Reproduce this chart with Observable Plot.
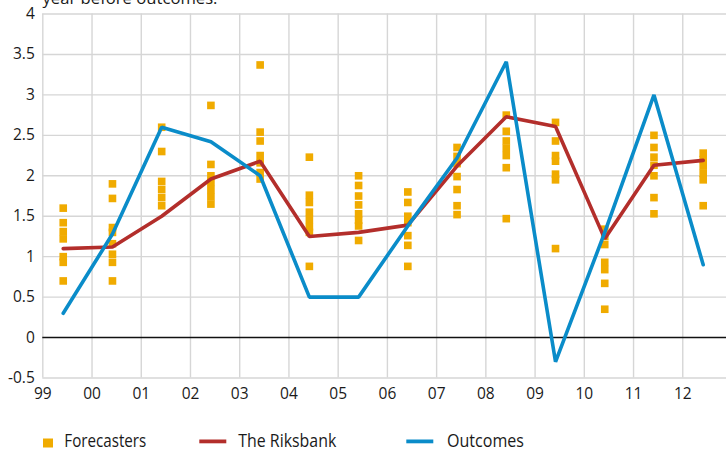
<!DOCTYPE html>
<html>
<head>
<meta charset="utf-8">
<script src="https://cdn.jsdelivr.net/npm/d3@7"></script>
<script src="https://cdn.jsdelivr.net/npm/@observablehq/plot@0.6"></script>
<style>
  html, body { margin: 0; padding: 0; background: #fff; }
  #wrap { position: relative; width: 726px; height: 450px; overflow: hidden; font-family: "Open Sans", sans-serif; color: #1a1a1a; }
  #chart { position: absolute; left: 0; top: 0; }
  #notes { position: absolute; left: 0; top: 0; pointer-events: none; }
  #notes text { font-family: "Open Sans", sans-serif; fill: #1a1a1a; }
</style>
</head>
<body>
<div id="wrap">
  <div id="chart"></div>
  <svg id="notes" width="726" height="450">
    <text x="42.5" y="4" font-size="17" textLength="175" lengthAdjust="spacingAndGlyphs">year before outcomes.</text>
    <rect x="43" y="438.5" width="10" height="9" fill="#f0ab00"></rect>
    <text x="64.3" y="447" font-size="17.5" textLength="82" lengthAdjust="spacingAndGlyphs">Forecasters</text>
    <rect x="199.3" y="439.5" width="27" height="3.8" fill="#b32e2b"></rect>
    <text x="238.3" y="447" font-size="17.5" textLength="98" lengthAdjust="spacingAndGlyphs">The Riksbank</text>
    <rect x="406.3" y="439.5" width="27" height="3.8" fill="#0a8cc9"></rect>
    <text x="447" y="447" font-size="17.5" textLength="77" lengthAdjust="spacingAndGlyphs">Outcomes</text>
  </svg>
</div>
<script>
// Years of the forecast horizon (tick labels are two-digit years)
const years = [1999, 2000, 2001, 2002, 2003, 2004, 2005, 2006, 2007, 2008, 2009, 2010, 2011, 2012];
const yearTicks = [1999, 2000, 2001, 2002, 2003, 2004, 2005, 2006, 2007, 2008, 2009, 2010, 2011, 2012];
const yTicks = [-0.5, 0, 0.5, 1, 1.5, 2, 2.5, 3, 3.5, 4];

// Actual outcomes
const outcomes = [0.3, 1.28, 2.6, 2.42, 2.0, 0.5, 0.5, 1.38, 2.22, 3.41, -0.3, 1.3, 3.0, 0.9];

// The Riksbank's forecasts
const riksbank = [1.1, 1.12, 1.5, 1.96, 2.18, 1.25, 1.3, 1.39, 2.12, 2.73, 2.61, 1.22, 2.13, 2.19];

// Individual forecasters, one list per year
const forecasters = [
  [1.6, 1.42, 1.31, 1.22, 1.0, 0.93, 0.7],
  [1.9, 1.72, 1.36, 1.3, 1.16, 1.03, 0.93, 0.7],
  [2.6, 2.3, 1.93, 1.83, 1.73, 1.63],
  [2.87, 2.14, 2.0, 1.92, 1.83, 1.74, 1.65],
  [3.37, 2.54, 2.43, 2.25, 2.16, 2.04, 1.96],
  [2.23, 1.76, 1.67, 1.55, 1.46, 1.37, 1.3, 0.88],
  [2.0, 1.88, 1.75, 1.64, 1.53, 1.45, 1.38, 1.2],
  [1.8, 1.67, 1.5, 1.42, 1.26, 1.14, 0.88],
  [2.35, 2.24, 2.15, 1.99, 1.83, 1.63, 1.52],
  [2.75, 2.55, 2.43, 2.34, 2.25, 2.1, 1.47],
  [2.66, 2.43, 2.25, 2.18, 2.02, 1.95, 1.1],
  [1.34, 1.25, 1.15, 0.93, 0.84, 0.67, 0.35],
  [2.5, 2.35, 2.23, 2.13, 2.0, 1.73, 1.53],
  [2.28, 2.2, 2.12, 2.03, 1.95, 1.63]
];

// Values are plotted a little before mid-year
const offset = 0.415;
const seriesRows = (vals) => years.map((y, i) => ({x: y + offset, v: vals[i]}));
const outcomeRows = seriesRows(outcomes);
const riksRows = seriesRows(riksbank);
const dotRows = years.flatMap((y, i) => forecasters[i].map(v => ({x: y + offset, v})));

const chart = Plot.plot({
  width: 726,
  height: 410,
  marginTop: 13.5,
  marginBottom: 32.5,
  marginLeft: 42.3,
  marginRight: 0,
  style: {fontFamily: "'Open Sans', sans-serif", fontSize: "15.5px", color: "#1a1a1a", background: "transparent"},
  x: {domain: [1999, 2013], range: [42.3, 731.5]},
  y: {domain: [-0.5, 4]},
  marks: [
    Plot.ruleX(yearTicks.concat([2013]), {stroke: "#d6d6d6", strokeWidth: 1.4}),
    Plot.ruleY(yTicks.filter(d => d !== 0), {stroke: "#d6d6d6", strokeWidth: 1.4}),
    Plot.ruleY([0], {stroke: "#111", strokeWidth: 1.5}),
    Plot.axisY({ticks: yTicks, tickSize: 0, tickPadding: 8, label: null, tickFormat: d => String(d)}),
    Plot.axisX({ticks: yearTicks, tickSize: 0, tickPadding: 10, label: null, tickFormat: d => String(d % 100).padStart(2, "0")}),
    Plot.dot(dotRows, {x: "x", y: "v", symbol: "square", r: 4.3, fill: "#f0ab00", stroke: "none"}),
    Plot.line(riksRows, {x: "x", y: "v", stroke: "#b32e2b", strokeWidth: 3.6, strokeLinejoin: "miter"}),
    Plot.line(outcomeRows, {x: "x", y: "v", stroke: "#0a8cc9", strokeWidth: 3.6, strokeLinejoin: "miter"})
  ]
});
document.getElementById("chart").appendChild(chart);
</script>
</body>
</html>
